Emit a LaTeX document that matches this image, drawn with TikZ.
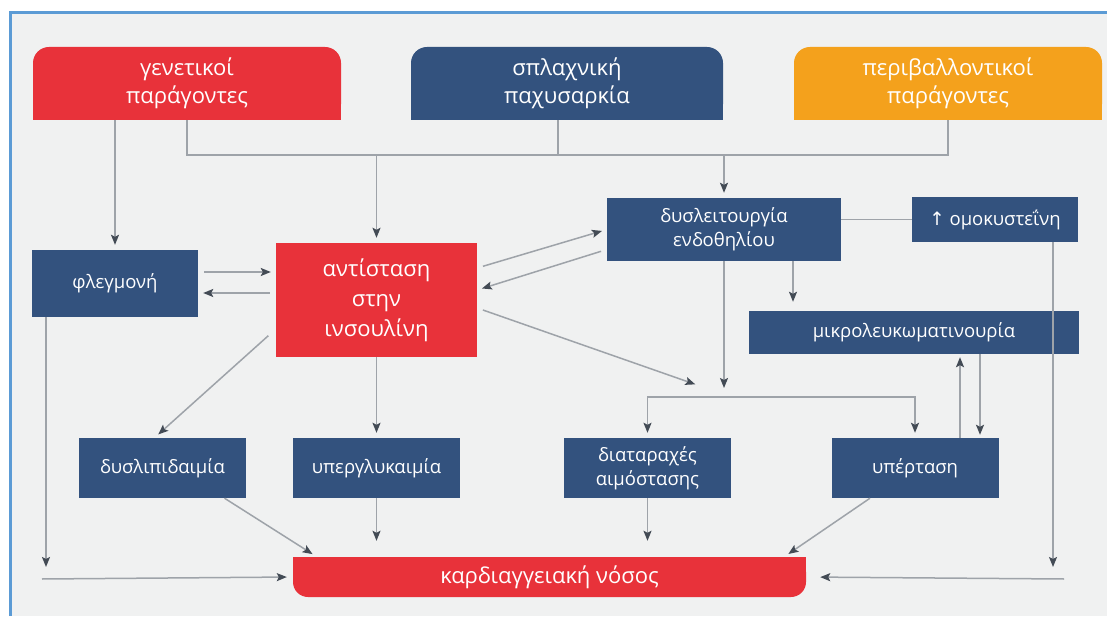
\documentclass[tikz,border=0pt]{standalone}
\usepackage{fontspec}
\setmainfont{Open Sans}
\newfontfamily\symbfont{DejaVu Sans}
\usetikzlibrary{arrows.meta,backgrounds}
\definecolor{redc}{HTML}{E8323A}
\definecolor{navyc}{HTML}{33527E}
\definecolor{orangec}{HTML}{F4A11C}
\definecolor{linec}{HTML}{9EA3A9}
\definecolor{tipc}{HTML}{434B55}
\definecolor{bgc}{HTML}{F0F1F1}
\definecolor{framec}{HTML}{5B9BD5}

\begin{document}
\begin{tikzpicture}[x=1pt, y=1pt,
    lbox/.style={fill=navyc, text=white, inner sep=0pt, align=center, font=\fontsize{18.5}{24}\selectfont},
    hbox/.style={text=white, inner sep=0pt, align=center, rounded corners=16, minimum width=308, minimum height=73, font=\fontsize{22}{28}\selectfont},
    con/.style={draw=linec, line width=1.5},
    arr/.style={con, -{Stealth[length=10pt, width=8pt, inset=2pt, color=tipc]}, shorten >=5pt}]
    \useasboundingbox (0, 0) rectangle (1107, 616);
    \node[hbox, fill=redc] (gen) at (187, 532.5) {γενετικοί\\παράγοντες};
    \node[hbox, fill=navyc, minimum width=312] (vis) at (567, 532.5) {σπλαχνική\\παχυσαρκία};
    \node[hbox, fill=orangec] (env) at (948, 532.5) {περιβαλλοντικοί\\παράγοντες};
    \node[lbox, minimum width=166, minimum height=67] (infl) at (115, 332.5) {φλεγμονή};
    \node[lbox, fill=redc, minimum width=201, minimum height=114, font=\fontsize{22}{30}\selectfont] (ir) at (376.5, 316) {αντίσταση\\στην\\ινσουλίνη};
    \node[lbox, minimum width=234, minimum height=63] (endo) at (724, 386.5) {δυσλειτουργία\\ενδοθηλίου};
    \node[lbox, minimum width=166, minimum height=45] (hcy) at (995, 396.5) {{\symbfont↑} ομοκυστεΐνη};
    \node[lbox, minimum width=330, minimum height=43] (micro) at (914, 283.5) {μικρολευκωματινουρία};
    \node[lbox, minimum width=167, minimum height=60] (lip) at (162.5, 148) {δυσλιπιδαιμία};
    \node[lbox, minimum width=167, minimum height=60] (glu) at (376.5, 148) {υπεργλυκαιμία};
    \node[lbox, minimum width=167, minimum height=60] (hem) at (647.5, 148) {διαταραχές\\αιμόστασης};
    \node[lbox, minimum width=167, minimum height=60] (hyp) at (915, 148) {υπέρταση};
    \node[hbox, fill=redc, rounded corners=15, minimum width=513, minimum height=40] (cvd) at (549.5, 39) {καρδιαγγειακή νόσος};
    \coordinate (k) at (558, 461);
    \coordinate (q) at (724, 219);
    \coordinate (t) at (700, 230);
    \coordinate (cl) at (46, 37);
    \coordinate (cr) at (1053, 37);
    \draw [con] (gen.south) |- (k) -| (env.south);
    \draw [con] ([xshift=-9pt]vis.south) -- (k);
    \draw [arr] (ir.north |- k) -- (ir.north);
    \draw [arr] (endo.north |- k) -- (endo.north);
    \draw [arr] (infl.north |- gen.south) -- (infl.north);
    \draw [arr, shorten <=6pt] ([yshift=11.5pt]infl.east) -- ([yshift=28pt]ir.west);
    \draw [arr, shorten <=6pt] ([yshift=7pt]ir.west) -- ([yshift=-9.5pt]infl.east);
    \draw [arr, shorten <=6pt] ([yshift=32pt]ir.east) -- (endo.west);
    \draw [arr, shorten <=6pt] ([yshift=-20pt]endo.west) -- ([yshift=10pt]ir.east);
    \draw [arr, shorten <=6pt] ([yshift=-8pt]ir.east) -- (t);
    \draw [arr, shorten >=9pt] (endo.south) -- (q);
    \draw [arr] (q) -| (hem.north);
    \draw [arr] (q) -| (hyp.north);
    \draw [arr, shorten >=9pt] ([xshift=69pt]endo.south) -- ([xshift=-121pt]micro.north);
    \draw [con] (hcy.west) -- (hcy.west -| endo.east);
    \draw [arr, shorten >=12pt] ([xshift=58pt]hcy.south) -- (cr);
    \draw [arr, shorten >=14pt] ([xshift=11pt]cr) -- (cvd.east);
    \draw [arr, shorten >=12pt] ([xshift=-69pt]infl.south) -- (cl);
    \draw [arr, shorten >=6pt] ([xshift=-4pt]cl) -- (cvd.west);
    \draw [arr, shorten <=10pt] ([yshift=-29pt]ir.west) -- ([xshift=-8pt]lip.north);
    \draw [arr] (ir.south) -- (glu.north);
    \draw [arr, shorten >=16pt] (glu.south) -- (glu.south |- cvd.north);
    \draw [arr, shorten >=16pt] (hem.south) -- (hem.south |- cvd.north);
    \draw [arr] ([xshift=62pt]lip.south) -- ([xshift=24pt]cvd.north west);
    \draw [arr] ([xshift=-45pt]hyp.south) -- ([xshift=-22pt]cvd.north east);
    \draw [arr, shorten >=3pt] ([xshift=45pt]hyp.north) -- ([xshift=46pt]micro.south);
    \draw [arr, shorten >=3pt] ([xshift=66pt]micro.south) -- ([xshift=65pt]hyp.north);
    \begin{pgfonlayer}{background}
      \fill[bgc] (10.5, 0) rectangle (1107, 603);
      \draw[framec, line width=3] (10.5, 0) -- (10.5, 603) -- (1107, 603);
      \fill[redc] (gen.west) rectangle (gen.south east);
      \fill[navyc] (vis.west) rectangle (vis.south east);
      \fill[orangec] (env.west) rectangle (env.south east);
      \fill[redc] (cvd.west) rectangle (cvd.north east);
    \end{pgfonlayer}
  \end{tikzpicture}
\end{document}
